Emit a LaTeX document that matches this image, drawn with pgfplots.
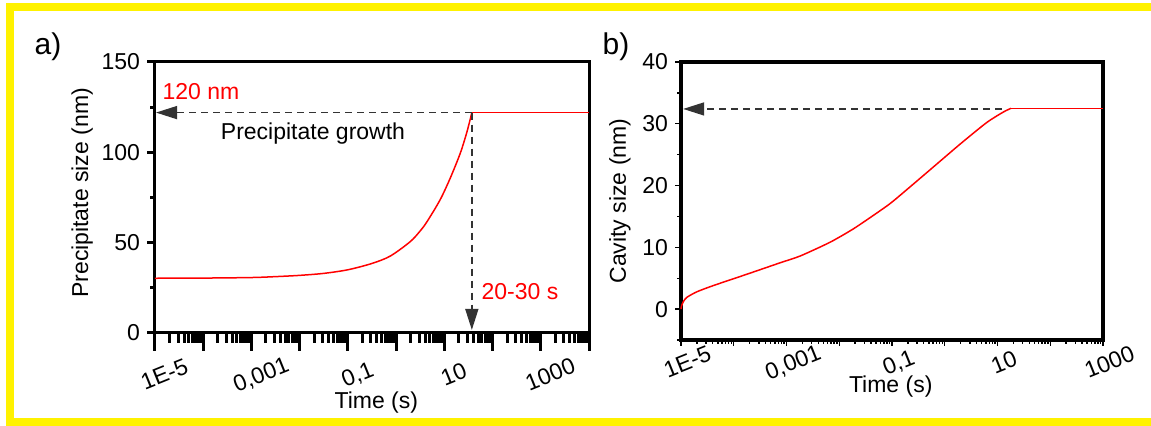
\documentclass[border=0pt]{standalone}
\usepackage{pgfplots}
\pgfplotsset{compat=1.18}
\usepackage{fontspec}
\setmainfont{Liberation Sans}
\usetikzlibrary{arrows.meta}

% precipitate size vs time (growth part, then plateau)
\pgfplotstableread{
t d
1e-5 30.3
1e-4 30.4
1e-3 30.7
3.16e-3 31.2
0.01 31.9
0.0316 33.0
0.1 35.0
0.316 38.5
0.759 42.6
1.95 50.5
3.16 56.5
4.37 61.6
8.13 73.6
13.2 85.6
21.4 99.5
29.5 111.4
37.2 122.0
}\precip
\pgfplotstableread{
t d
37.2 122.0
1e4 122.0
}\precipflat

% cavity size vs time (growth part, then plateau)
\pgfplotstableread{
t d
1e-5 0.0
1.023e-5 0.5
1.107e-5 1.2
1.288e-5 1.9
1.995e-5 2.8
4.07e-5 3.8
1.778e-4 5.65
7.59e-4 7.5
1.82e-3 8.6
6.61e-3 10.8
0.0186 13.0
0.0589 15.9
0.106 17.5
0.457 22.1
1.95 26.7
6.24 30.2
12.9 31.9
18.0 32.5
}\cavity
\pgfplotstableread{
t d
18.0 32.5
1000 32.5
}\cavityflat

\tikzset{
  txt/.style={font=\fontsize{11.5}{13.5}\selectfont},
  guide/.style={black!80, line width=0.75pt, dash pattern=on 3.5pt off 2.5pt,
    -{Triangle[length=10.5pt,width=6.5pt]}},
}

\begin{document}
\begin{tikzpicture}[x=0.5pt,y=-0.5pt]
\useasboundingbox (0,0) rectangle (1151,426);
\fill[white] (0,0) rectangle (1151,426);
\draw[yellow, line width=4pt] (10,7.5) rectangle (1155,422.5);

% ---- panel a: frame, y ticks, curve
\begin{axis}[at={(77.5pt,-166.5pt)}, anchor=south west, scale only axis,
  width=217pt, height=135.5pt,
  xmode=log, xmin=1e-5, xmax=1e4, ymin=0, ymax=150,
  xtick=\empty, minor xtick={},
  ytick={0,50,100,150}, yticklabels={0,50,100,150}, minor ytick={25,75,125},
  ytick pos=left, tick align=outside,
  major tick length=4pt, minor tick length=2.5pt,
  tick style={black, line width=1.5pt},
  axis line style={line width=1.5pt},
  tick label style={txt}, label style={txt},
  xlabel={Time (s)}, ylabel={Precipitate size (nm)},
  xlabel style={at={(axis description cs:0.51,-0.255)}, anchor=center},
  ylabel style={at={(axis description cs:-0.168,0.517)}, anchor=center},
  clip=false]
\addplot[red, line width=0.75pt, smooth, tension=0.5] table[x=t, y=d] {\precip};
\addplot[red, line width=0.75pt] table[x=t, y=d] {\precipflat};
\addplot[guide] coordinates {(37.2,122) (1.05e-5,122)};
\addplot[guide] coordinates {(37.2,122) (37.2,1.7)};
\end{axis}

% ---- panel a: long x ticks and labels
\begin{axis}[at={(77.5pt,-166.5pt)}, anchor=south west, scale only axis,
  width=217pt, height=135.5pt,
  xmode=log, xmin=1e-5, xmax=1e4, ymin=0, ymax=150,
  hide y axis, axis x line*=bottom,
  xtick={1e-5,1e-4,1e-3,0.01,0.1,1,10,100,1000,10000},
  xticklabels={{1E-5},{},{0,001},{},{0,1},{},{10},{},{1000},{}},
  minor xtick={2e-5,3e-5,4e-5,5e-5,6e-5,7e-5,8e-5,9e-5,
    2e-4,3e-4,4e-4,5e-4,6e-4,7e-4,8e-4,9e-4,
    2e-3,3e-3,4e-3,5e-3,6e-3,7e-3,8e-3,9e-3,
    0.02,0.03,0.04,0.05,0.06,0.07,0.08,0.09,
    0.2,0.3,0.4,0.5,0.6,0.7,0.8,0.9,
    2,3,4,5,6,7,8,9,
    20,30,40,50,60,70,80,90,
    200,300,400,500,600,700,800,900,
    2000,3000,4000,5000,6000,7000,8000,9000},
  tick align=outside, major tick length=9pt, minor tick length=5pt,
  tick style={black, line width=1.5pt},
  axis line style={line width=1.5pt},
  xticklabel style={txt, rotate=22, anchor=north, yshift=-5pt}]
\end{axis}

% ---- panel b
\begin{axis}[at={(340.5pt,-170pt)}, anchor=south west, scale only axis,
  width=211pt, height=139pt,
  xmode=log, xmin=1e-5, xmax=1e3, ymin=-5, ymax=40,
  xtick={1e-5,1e-4,1e-3,0.01,0.1,1,10,100,1000},
  xticklabels={{1E-5},{},{0,001},{},{0,1},{},{10},{},{1000}},
  minor xtick={2e-5,3e-5,4e-5,5e-5,6e-5,7e-5,8e-5,9e-5,
    2e-4,3e-4,4e-4,5e-4,6e-4,7e-4,8e-4,9e-4,
    2e-3,3e-3,4e-3,5e-3,6e-3,7e-3,8e-3,9e-3,
    0.02,0.03,0.04,0.05,0.06,0.07,0.08,0.09,
    0.2,0.3,0.4,0.5,0.6,0.7,0.8,0.9,
    2,3,4,5,6,7,8,9,
    20,30,40,50,60,70,80,90,
    200,300,400,500,600,700,800,900},
  ytick={0,10,20,30,40}, yticklabels={0,10,20,30,40},
  minor ytick={-5,5,15,25,35},
  xtick pos=left, ytick pos=left, tick align=outside,
  major tick length=3pt, minor tick length=2pt,
  tick style={black, line width=0.7pt},
  axis line style={line width=1.75pt},
  tick label style={txt}, label style={txt},
  xticklabel style={rotate=22, anchor=north, yshift=-1pt},
  xlabel={Time (s)}, ylabel={Cavity size (nm)},
  xlabel style={at={(axis description cs:0.497,-0.169)}, anchor=center},
  ylabel style={at={(axis description cs:-0.1445,0.5)}, anchor=center},
  clip=false]
\addplot[red, line width=0.75pt, smooth, tension=0.4] table[x=t, y=d] {\cavity};
\addplot[red, line width=0.75pt] table[x=t, y=d] {\cavityflat};
\addplot[guide] coordinates {(12,32.4) (1.1e-5,32.4)};
\end{axis}

\node[font=\fontsize{15}{18}\selectfont] at (48,47) {a)};
\node[font=\fontsize{15}{18}\selectfont] at (616,47) {b)};
\node[txt, text=red] at (201,92) {120 nm};
\node[txt] at (313,134) {Precipitate growth};
\node[txt, text=red] at (520,292) {20-30 s};
\end{tikzpicture}
\end{document}
